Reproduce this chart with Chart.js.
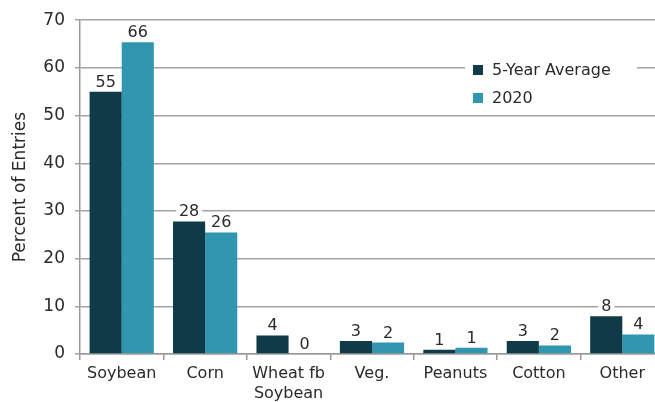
<!DOCTYPE html>
<html>
<head>
<meta charset="utf-8">
<script src="https://cdn.jsdelivr.net/npm/chart.js@4"></script>
<style>
  html, body { margin: 0; padding: 0; background: #fff; overflow: hidden; }
  #wrap { width: 664px; height: 402px; }
</style>
</head>
<body>
<div id="wrap"><canvas id="chartContainer"></canvas></div>
<script>
// crop types and share of entries
var categories = ["Soybean", "Corn", ["Wheat fb", "Soybean"], "Veg.", "Peanuts", "Cotton", "Other"];
var avgValues = [55, 27.8, 3.9, 2.7, 0.9, 2.7, 7.9];
var avgLabels = ["55", "28", "4", "3", "1", "3", "8"];
var y2020Values = [65.4, 25.5, 0, 2.4, 1.3, 1.8, 4.1];
var y2020Labels = ["66", "26", "0", "2", "1", "2", "4"];
var yTicks = [0, 10, 20, 30, 40, 50, 60, 70];

var darkColor = "#0f3b48";
var lightColor = "#3196b0";
var fontName = "'DejaVu Sans', sans-serif";
var textColor = "#2a2a2a";

var barLabels = {
    id: "barLabels",
    afterDatasetsDraw: function (chart) {
        var ctx = chart.ctx;
        var texts = [avgLabels, y2020Labels];
        ctx.save();
        ctx.font = "16px " + fontName;
        ctx.textAlign = "center";
        ctx.textBaseline = "alphabetic";
        chart.data.datasets.forEach(function (ds, di) {
            chart.getDatasetMeta(di).data.forEach(function (bar, i) {
                var t = texts[di][i];
                var w = ctx.measureText(t).width;
                var y = bar.y - 5;
                ctx.fillStyle = "#fff";
                ctx.fillRect(bar.x - w / 2 - 3, y - 14, w + 6, 16);
                ctx.fillStyle = textColor;
                ctx.fillText(t, bar.x, y);
            });
        });
        ctx.restore();
    }
};

var boxLegend = {
    id: "boxLegend",
    afterDraw: function (chart) {
        var ctx = chart.ctx;
        ctx.save();
        ctx.fillStyle = "#fff";
        ctx.fillRect(465, 58, 172, 50);
        ctx.font = "16px " + fontName;
        ctx.textBaseline = "middle";
        chart.data.datasets.forEach(function (ds, i) {
            var cy = 70 + i * 28;
            ctx.fillStyle = ds.backgroundColor;
            ctx.fillRect(473, cy - 5, 10, 10);
            ctx.fillStyle = textColor;
            ctx.fillText(ds.label, 492, cy + 1);
        });
        ctx.restore();
    }
};

var chart = new Chart(document.getElementById("chartContainer"), {
    type: "bar",
    data: {
        labels: categories,
        datasets: [{
            label: "5-Year Average",
            data: avgValues,
            backgroundColor: darkColor
        }, {
            label: "2020",
            data: y2020Values,
            backgroundColor: lightColor
        }]
    },
    options: {
        responsive: true,
        maintainAspectRatio: false,
        animation: false,
        layout: { padding: { top: 20, right: 0, left: 0, bottom: 0 } },
        datasets: { bar: { categoryPercentage: 0.77, barPercentage: 1.0 } },
        plugins: {
            legend: { display: false },
            tooltip: { enabled: false }
        },
        scales: {
            x: {
                grid: { drawOnChartArea: false, offset: true, tickLength: 6, color: "#999", lineWidth: 1.5 },
                border: { color: "#999", width: 1.5 },
                ticks: { color: textColor, font: { family: fontName, size: 16, lineHeight: 1.25 }, padding: 4, maxRotation: 0, autoSkip: false },
                afterFit: function (s) { s.height = 48; }
            },
            y: {
                min: 0,
                max: 70,
                afterBuildTicks: function (s) { s.ticks = yTicks.map(function (v) { return { value: v }; }); },
                grid: { color: "#a3a3a3", lineWidth: 1.5, tickLength: 5 },
                border: { color: "#999", width: 1.5 },
                ticks: { color: textColor, font: { family: fontName, size: 17 }, padding: 10 },
                title: { display: true, text: "Percent of Entries", color: textColor, font: { family: fontName, size: 17 }, padding: { top: 10, bottom: 4 } },
                afterFit: function (s) { s.width = 80; }
            }
        }
    },
    plugins: [barLabels, boxLegend]
});
</script>
</body>
</html>
